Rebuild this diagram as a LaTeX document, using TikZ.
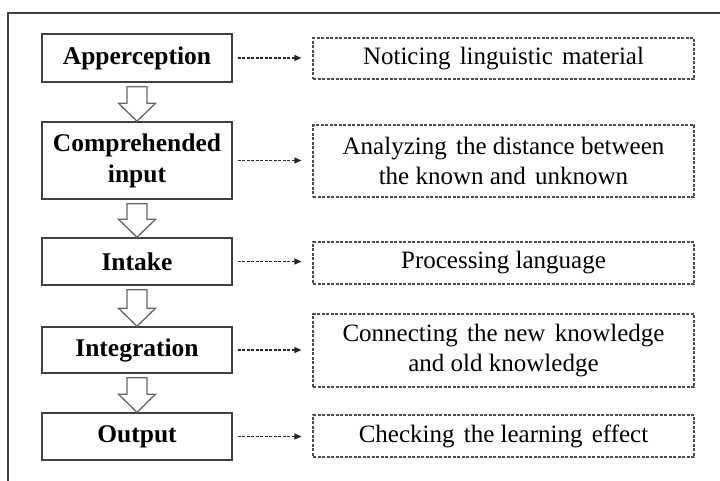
\documentclass[tikz,border=0pt]{standalone}
\usepackage{fontspec}
\setmainfont{Liberation Serif}
\usetikzlibrary{calc,arrows.meta}
\newcommand\wgap{\hspace{3pt}}
\tikzset{
 stage/.style={draw=black!75, line width=1.5pt, minimum width=190pt, inner sep=0pt, align=center, font=\fontsize{25.5}{31}\selectfont\bfseries, fill=white},
 note/.style={draw=black!70, line width=1.1pt, dash pattern=on 3pt off 1.5pt, minimum width=381pt, inner sep=0pt, align=center, font=\fontsize{25}{30}\selectfont},
 dotarr/.style={draw=black!85, line width=1.1pt, dash pattern=on 3pt off 1.5pt, -{Triangle[length=7pt,width=6pt]}, shorten <=5pt, shorten >=11pt},
 blockarr/.style={draw=black!60, line width=1.3pt, fill=white, line join=miter},
 frame/.style={draw=black!75, line width=1.2pt},
}
\newcommand\stagearrow[2]{%
 \draw[blockarr] let \p1=(#1.south), \p2=(#2.north) in
  (\x1-10pt,\y1-4pt) -- (\x1+10pt,\y1-4pt) -- (\x1+10pt,\y2+18pt) -- (\x1+18.5pt,\y2+18pt)
  -- (\x2,\y2) -- (\x1-18.5pt,\y2+18pt) -- (\x1-10pt,\y2+18pt) -- cycle;}
\begin{document}
\begin{tikzpicture}[x=1pt,y=-1pt]
\useasboundingbox (0,0) rectangle (720,480);
\draw[frame] (8,482) -- (8,13) -- (722,13);
% left column
\node[stage, minimum height=48pt] (A) at (137,58) {Apperception};
\node[stage, minimum height=77pt] (C) at (137,160.5) {Comprehended\\input};
\node[stage, minimum height=47pt] (I) at (137,261.5) {Intake};
\node[stage, minimum height=46pt] (G) at (137,350) {Integration};
\node[stage, minimum height=47pt] (O) at (137,436.5) {Output};
% right column
\node[note, minimum height=41pt] (N) at (503.5,58.5) {Noticing\wgap{} linguistic\wgap{} material};
\node[note, minimum height=72pt] (An) at (503.5,161) {Analyzing\wgap{} the distance between\\the known and\wgap{} unknown};
\node[note, minimum height=42pt] (P) at (503.5,263) {Processing language};
\node[note, minimum height=73pt] (Cn) at (503.5,350.5) {Connecting\wgap{} the new\wgap{} knowledge\\and old knowledge};
\node[note, minimum height=42pt] (Ch) at (503.5,436) {Checking\wgap{} the learning\wgap{} effect};
% block arrows
\stagearrow{A}{C}
\stagearrow{C}{I}
\stagearrow{I}{G}
\stagearrow{G}{O}
% dotted arrows
\draw[dotarr] (A.east) -- (N.west |- A.east);
\draw[dotarr] (C.east) -- (An.west |- C.east);
\draw[dotarr] (I.east) -- (P.west |- I.east);
\draw[dotarr] (G.east) -- (Cn.west |- G.east);
\draw[dotarr] (O.east) -- (Ch.west |- O.east);
\end{tikzpicture}
\end{document}
